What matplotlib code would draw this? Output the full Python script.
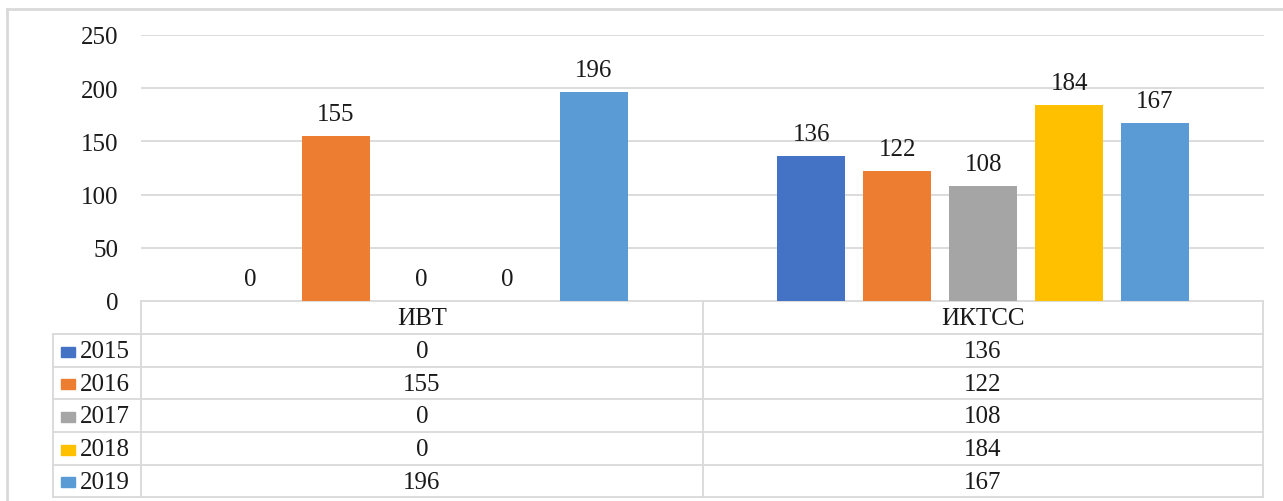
import numpy as np
import matplotlib.pyplot as plt
from matplotlib.lines import Line2D
from matplotlib.patches import Rectangle

plt.rcParams['font.family'] = ['Liberation Serif', 'DejaVu Serif']

categories = ["ИВТ", "ИКТСС"]
years = ["2015", "2016", "2017", "2018", "2019"]
v2015 = [0, 136]
v2016 = [155, 122]
v2017 = [0, 108]
v2018 = [0, 184]
v2019 = [196, 167]
series = [v2015, v2016, v2017, v2018, v2019]
colors = ["#4472C4", "#ED7D31", "#A5A5A5", "#FFC000", "#5B9BD5"]
yticks = [0, 50, 100, 150, 200, 250]

W, H = 1283, 502
fig = plt.figure(figsize=(W / 100, H / 100), dpi=100)
fig.patch.set_facecolor("white")

TXT = "#1a1a1a"
GRID = "#d9d9d9"
FS = 18

def fx(px):
    return px / W

def fy(py):
    return 1 - py / H

# plot area
x0, x1, ytop, ybot = 141, 1264, 36, 302
ax = fig.add_axes([fx(x0), fy(ybot), fx(x1 - x0), (ybot - ytop) / H])
ax.set_xlim(-0.5, 1.5)
ax.set_ylim(0, 250)
ax.set_yticks(yticks)
ax.set_yticklabels([str(t) for t in yticks], fontsize=FS, color=TXT)
ax.tick_params(axis="y", length=0, pad=16)
ax.set_xticks([])
ax.grid(axis="y", color=GRID, linewidth=1.3)
ax.set_axisbelow(True)
for s in ax.spines.values():
    s.set_visible(False)

step = 86 / 562
width = 68 / 562
xc = np.arange(len(categories))
for i, (vals, c) in enumerate(zip(series, colors)):
    pos = xc + (i - 2) * step
    ax.bar(pos, vals, width=width, color=c, zorder=2)
    for p, v in zip(pos, vals):
        ax.annotate(str(v), (p, v), xytext=(0, 16), textcoords="offset points",
                    ha="center", va="center", fontsize=FS, color=TXT)

# overlay in pixel coordinates for table and frame
ov = fig.add_axes([0, 0, 1, 1], zorder=-1)
ov.set_xlim(0, W)
ov.set_ylim(H, 0)
ov.axis("off")

def seg(xa, ya, xb, yb, lw=1.3):
    ov.add_line(Line2D([xa, xb], [ya, yb], color=GRID, linewidth=lw))

# outer chart frame
seg(7, 10, W + 5, 10, lw=2)
seg(7, 10, 7, H + 5, lw=2)

rows = [302, 335, 368, 400, 433, 466, 498]
tl, tc, tm, tr = 53, 141, 703, 1263
seg(tc, rows[0], tr, rows[0])
for y in rows[1:]:
    seg(tl, y, tr, y)
seg(tl, rows[1], tl, rows[-1])
for x in (tc, tm, tr):
    seg(x, rows[0], x, rows[-1])

col_centers = [(tc + tm) / 2, (tm + tr) / 2]
hy = (rows[0] + rows[1]) / 2 + 1
for cx, name in zip(col_centers, categories):
    ov.text(cx, hy, name, ha="center", va="center", fontsize=FS, color=TXT)

for r, (yr, vals, c) in enumerate(zip(years, series, colors)):
    cy = (rows[r + 1] + rows[r + 2]) / 2 + 1
    ov.add_patch(Rectangle((61, cy - 5), 14, 10, color=c))
    ov.text(80, cy, yr, ha="left", va="center", fontsize=FS, color=TXT)
    for cx, v in zip(col_centers, vals):
        ov.text(cx, cy, str(v), ha="center", va="center", fontsize=FS, color=TXT)

fig.savefig("out.png", dpi=100)
